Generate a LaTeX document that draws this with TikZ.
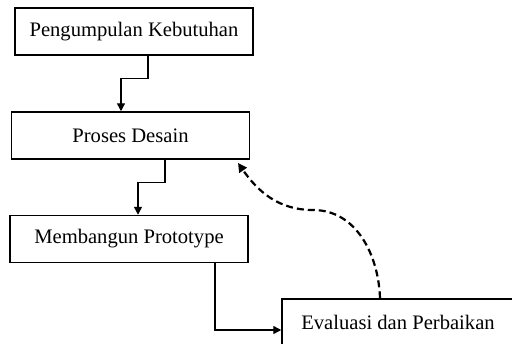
\documentclass[tikz,border=0pt]{standalone}
\usepackage{fontspec}
\setmainfont{Liberation Serif}
\usetikzlibrary{arrows.meta}

\tikzset{
  box/.style={draw, line width=0.75pt, minimum width=119pt, minimum height=23.5pt,
    inner sep=0pt, font=\fontsize{10.3}{12}\selectfont},
  flow/.style={-{Triangle[length=4pt,width=4pt]}, line width=0.7pt},
  back/.style={-{Triangle[length=4.5pt,width=4.5pt]}, line width=1.1pt, dash pattern=on 3.5pt off 2pt}
}

\begin{document}
\begin{tikzpicture}[x=0.5pt, y=-0.5pt]

  \useasboundingbox (0,0) rectangle (512,343);
  \clip (0,0) rectangle (512,343);

  % Steps
  \node[box] (kebutuhan) at (134,31.5) {Pengumpulan Kebutuhan};
  \node[box] (desain) at (130.5,135.5) {Proses Desain};
  \node[box] (prototype) at (129,239) {Membangun Prototype};
  \node[box, minimum width=116pt] (evaluasi) at (398,322.5) {Evaluasi dan Perbaikan};

  % Forward flow
  \draw[flow] ([xshift=7pt]kebutuhan.south) -- ++(0,23) -| ([xshift=-4.75pt]desain.north);
  \draw[flow] ([xshift=17.25pt]desain.south) -- ++(0,23) -| ([xshift=4.5pt]prototype.north);
  \draw[flow] ([xshift=43pt]prototype.south) |- ([yshift=-3.75pt]evaluasi.west);

  % Feedback
  \coordinate (puncak) at (313,210);
  \coordinate (ujung) at (238,163);
  \draw[back] ([xshift=-9pt]evaluasi.north) to[out=92,in=0] (puncak)
    to[out=180,in=-55] (ujung);

\end{tikzpicture}
\end{document}
